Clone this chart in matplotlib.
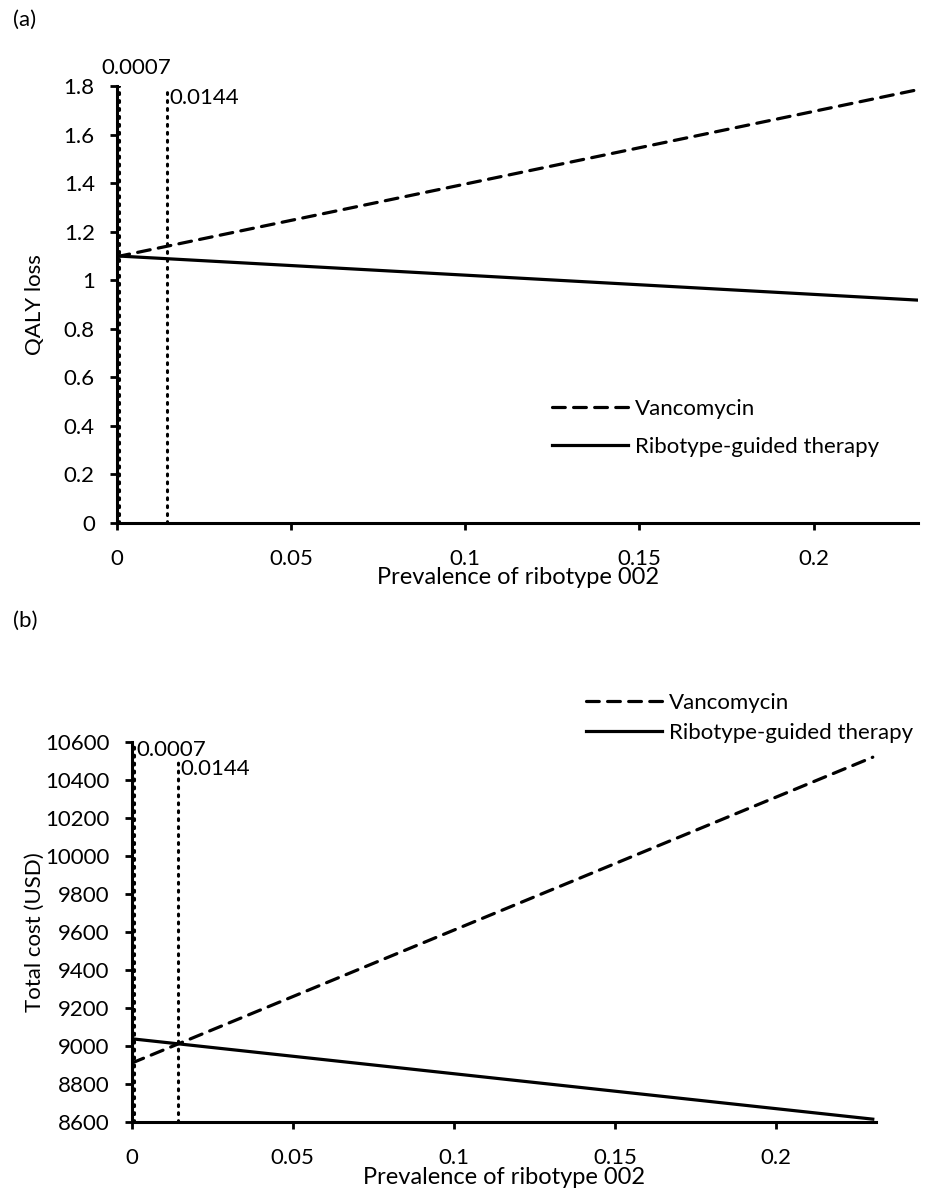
import matplotlib.pyplot as plt

plt.rcParams['font.family'] = ['Lato', 'DejaVu Sans']

W, H = 925, 1189

# data
prev = [0.0, 0.23]
qaly_vanco = [1.097, 1.785]
qaly_ribo = [1.100, 0.918]
cost_vanco = [8910, 10520]
cost_ribo = [9038, 8615]

thresholds = [0.0007, 0.0144]
threshold_labels = ['0.0007', '0.0144']
qaly_thr_top = [1.8, 1.78]
cost_thr_top = [10600, 10500]

FS = 16

fig = plt.figure(figsize=(W / 100, H / 100), dpi=100)


def px_axes(left, right, top, bottom):
    return fig.add_axes([left / W, 1 - bottom / H, (right - left) / W, (bottom - top) / H])


def style_axes(ax):
    for side in ['top', 'right']:
        ax.spines[side].set_visible(False)
    for side in ['left', 'bottom']:
        ax.spines[side].set_linewidth(2.2)
    ax.tick_params(direction='out', length=5, width=2, labelsize=FS)
    ax.tick_params(axis='y', pad=11)
    ax.tick_params(axis='x', pad=14)


dash = (0, (4, 2.6))
dot = (0, (0.6, 2.0))

# ---- (a) QALY loss
ax1 = px_axes(117, 918, 86, 523)
ax1.plot(prev, qaly_vanco, color='black', lw=2.3, linestyle=dash,
         dash_capstyle='round', label='Vancomycin')
ax1.plot(prev, qaly_ribo, color='black', lw=2.3, label='Ribotype-guided therapy')
for t, top in zip(thresholds, qaly_thr_top):
    ax1.plot([t, t], [0, top], color='black', lw=2.2, linestyle=dot,
             dash_capstyle='round')
ax1.annotate(threshold_labels[0], (thresholds[0], qaly_thr_top[0]),
             xytext=(12, 13), textcoords='offset points',
             ha='center', va='center', fontsize=FS)
ax1.annotate(threshold_labels[1], (thresholds[1], qaly_thr_top[1]),
             xytext=(1.5, -5), textcoords='offset points',
             ha='left', va='center', fontsize=FS)
ax1.set_xlim(0, 0.23)
ax1.set_ylim(0, 1.8)
ax1.set_xticks([0, 0.05, 0.1, 0.15, 0.2])
ax1.set_xticklabels(['0', '0.05', '0.1', '0.15', '0.2'])
ax1.set_yticks([0, 0.2, 0.4, 0.6, 0.8, 1.0, 1.2, 1.4, 1.6, 1.8])
ax1.set_yticklabels(['0', '0.2', '0.4', '0.6', '0.8', '1', '1.2', '1.4', '1.6', '1.8'])
style_axes(ax1)
ax1.set_ylabel('QALY loss', fontsize=FS)
ax1.yaxis.set_label_coords((45 - 117) / 801, 0.5)
ax1.set_xlabel('Prevalence of ribotype 002', fontsize=FS + 1)
ax1.xaxis.set_label_coords(0.5, (523 - 578) / 437)
ax1.xaxis.label.set_va('center')
ax1.legend(frameon=False, fontsize=FS, handlelength=3.4, handletextpad=0.35,
           labelspacing=0.8, loc='center left',
           bbox_to_anchor=(532 / W, 1 - 428 / H), bbox_transform=fig.transFigure)
fig.text(13 / W, 1 - 20 / H, '(a)', ha='left', va='center', fontsize=FS)

# ---- (b) total cost
ax2 = px_axes(131.7, 876, 742, 1122)
ax2.plot(prev, cost_vanco, color='black', lw=2.3, linestyle=dash,
         dash_capstyle='round', label='Vancomycin')
ax2.plot(prev, cost_ribo, color='black', lw=2.3, label='Ribotype-guided therapy')
for t, top in zip(thresholds, cost_thr_top):
    ax2.plot([t, t], [8600, top], color='black', lw=2.2, linestyle=dot,
             dash_capstyle='round')
ax2.annotate(threshold_labels[0], (thresholds[0], cost_thr_top[0]),
             xytext=(2, -6), textcoords='offset points',
             ha='left', va='center', fontsize=FS)
ax2.annotate(threshold_labels[1], (thresholds[1], cost_thr_top[1]),
             xytext=(1.5, -6), textcoords='offset points',
             ha='left', va='center', fontsize=FS)
ax2.set_xlim(0, 0.231)
ax2.set_ylim(8600, 10600)
ax2.set_xticks([0, 0.05, 0.1, 0.15, 0.2])
ax2.set_xticklabels(['0', '0.05', '0.1', '0.15', '0.2'])
ax2.set_yticks(range(8600, 10601, 200))
style_axes(ax2)
ax2.set_ylabel('Total cost (USD)', fontsize=FS)
ax2.yaxis.set_label_coords((45 - 131.7) / 744.3, 0.5)
ax2.set_xlabel('Prevalence of ribotype 002', fontsize=FS + 1)
ax2.xaxis.set_label_coords(0.5, (1122 - 1177) / 380)
ax2.xaxis.label.set_va('center')
ax2.legend(frameon=False, fontsize=FS, handlelength=3.4, handletextpad=0.35,
           labelspacing=0.45, loc='center left',
           bbox_to_anchor=(566 / W, 1 - 718 / H), bbox_transform=fig.transFigure)
fig.text(13 / W, 1 - 621 / H, '(b)', ha='left', va='center', fontsize=FS)

fig.savefig('out.png', dpi=100)
